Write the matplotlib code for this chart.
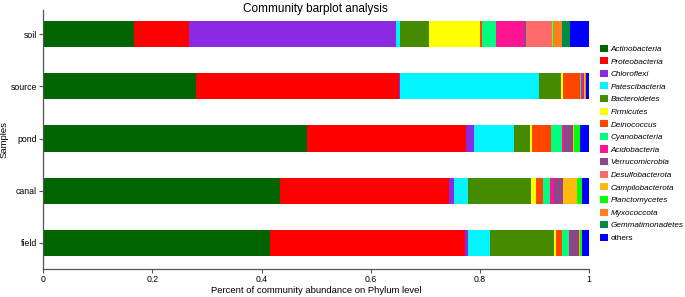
import matplotlib.pyplot as plt
import numpy as np
from matplotlib.patches import Patch

plt.rcParams['font.family'] = ['Liberation Sans', 'DejaVu Sans']

samples = ['field', 'canal', 'pond', 'source', 'soil']

phyla = ['Actinobacteria', 'Proteobacteria', 'Chloroflexi', 'Patescibacteria',
         'Bacteroidetes', 'Firmicutes', 'Deinococcus', 'Cyanobacteria',
         'Acidobacteria', 'Verrucomicrobia', 'Desulfobacterota', 'Campilobacterota',
         'Planctomycetes', 'Myxococcota', 'Gemmatimonadetes', 'others']

colors = ['#006400', '#FF0000', '#8A2BE2', '#00F5FF', '#458B00', '#FFFF00',
          '#FF4500', '#00FF7F', '#FF1493', '#8B4789', '#FF6A6A', '#FFB90F',
          '#00FF00', '#FF7F24', '#008B45', '#0000FF']

# abundance per phylum, in order field, canal, pond, source, soil
field = [0.415, 0.357, 0.006, 0.041, 0.116, 0.004, 0.012, 0.012,
         0.002, 0.016, 0.001, 0.001, 0.004, 0.000, 0.000, 0.013]
canal = [0.433, 0.311, 0.008, 0.026, 0.116, 0.008, 0.014, 0.012,
         0.007, 0.017, 0.001, 0.025, 0.009, 0.000, 0.000, 0.013]
pond = [0.484, 0.290, 0.015, 0.074, 0.029, 0.004, 0.034, 0.020,
        0.004, 0.016, 0.001, 0.001, 0.012, 0.000, 0.000, 0.016]
source = [0.280, 0.372, 0.002, 0.255, 0.040, 0.004, 0.030, 0.003,
          0.002, 0.002, 0.001, 0.001, 0.000, 0.002, 0.000, 0.006]
soil = [0.167, 0.100, 0.379, 0.008, 0.052, 0.094, 0.003, 0.026,
        0.052, 0.004, 0.047, 0.002, 0.002, 0.015, 0.014, 0.035]

data = np.array([field, canal, pond, source, soil])

fig = plt.figure(figsize=(6.85, 2.97), dpi=100)
ax = fig.add_axes([0.063, 0.094, 0.797, 0.872])

y = np.arange(len(samples))
left = np.zeros(len(samples))
for i, name in enumerate(phyla):
    ax.barh(y, data[:, i], left=left, height=0.5, color=colors[i], linewidth=0)
    left += data[:, i]

ax.set_xlim(0, 1)
ax.set_ylim(-0.5, 4.46)
ax.set_yticks(y)
ax.set_yticklabels(samples)
ax.set_xticks([0, 0.2, 0.4, 0.6, 0.8, 1])
ax.set_xticklabels(['0', '0.2', '0.4', '0.6', '0.8', '1'])
ax.tick_params(labelsize=6.3, length=3, width=0.8, color='#555555', pad=1.5)
for s in ['top', 'right']:
    ax.spines[s].set_visible(False)
for s in ['left', 'bottom']:
    ax.spines[s].set_color('#555555')
    ax.spines[s].set_linewidth(0.9)

ax.set_xlabel('Percent of community abundance on Phylum level', fontsize=6.8)
ax.xaxis.set_label_coords(0.5, -0.064)
ax.set_ylabel('Samples', fontsize=6.8)
ax.yaxis.set_label_coords(-0.064, 0.5)
fig.text(0.461, 0.99, 'Community barplot analysis', ha='center', va='top', fontsize=8.5)

handles = [Patch(facecolor=c, edgecolor='none') for c in colors]
leg = fig.legend(handles, phyla, loc='upper left', bbox_to_anchor=(0.876, 0.85),
                 frameon=False, fontsize=5.9, handlelength=0.95, handleheight=0.95,
                 handletextpad=0.3, labelspacing=0.52, borderaxespad=0, borderpad=0)
for t in leg.get_texts()[:-1]:
    t.set_fontstyle('italic')

fig.savefig('out.png', dpi=100)
